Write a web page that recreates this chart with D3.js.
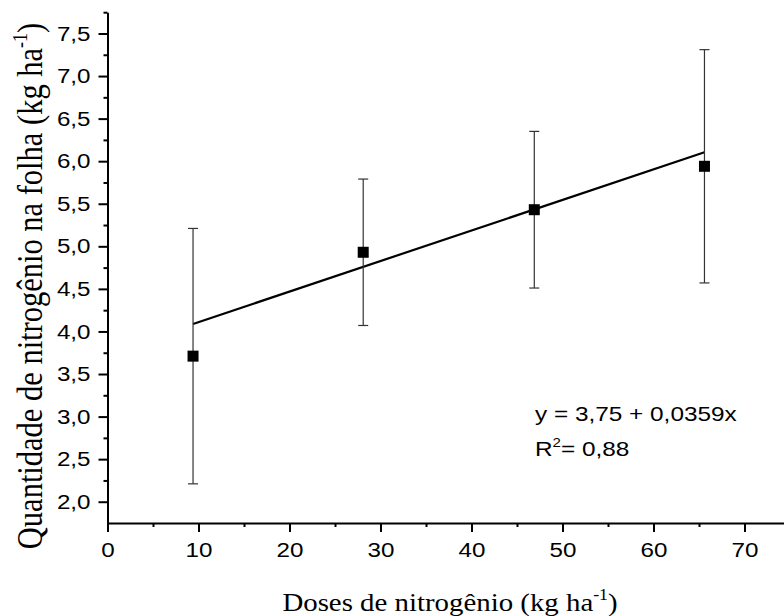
<!DOCTYPE html>
<html>
<head>
<meta charset="utf-8">
<script src="https://cdn.jsdelivr.net/npm/d3@7"></script>
<style>
  html, body { margin: 0; padding: 0; background: #fff; }
  svg { display: block; }
</style>
</head>
<body>
<svg id="chart" width="784" height="616"></svg>
<script>
// ---- data ----
const doses = [9.4, 28.1, 46.9, 65.6];
const means = [3.71, 4.93, 5.43, 5.94];
const errors = [1.50, 0.86, 0.92, 1.37];
const intercept = 3.75;
const slope = 0.0359;
const r2Label = "0,88";
const eqLabel = "y = 3,75 + 0,0359x";
const xTicks = [0, 10, 20, 30, 40, 50, 60, 70];
const xMinorTicks = [5, 15, 25, 35, 45, 55, 65, 75];
const yTicks = [2.0, 2.5, 3.0, 3.5, 4.0, 4.5, 5.0, 5.5, 6.0, 6.5, 7.0, 7.5];
const yMinorTicks = [2.25, 2.75, 3.25, 3.75, 4.25, 4.75, 5.25, 5.75, 6.25, 6.75, 7.25, 7.75];

const svg = d3.select("#chart");
const SX = 1.18; // horizontal stretch of text seen in reference

const x = d3.scaleLinear().domain([0, 75]).range([107.5, 790]);
const y = d3.scaleLinear().domain([1.75, 7.75]).range([523, 12.2]);

const fmt = v => d3.format(".1f")(v).replace(".", ",");

// x axis
const gx = svg.append("g").attr("transform", `translate(0,${y(1.75)})`);
gx.call(d3.axisBottom(x).tickValues(xMinorTicks).tickSize(4).tickFormat(""));
gx.call(g => g.selectAll(".domain").remove());
const gxMaj = svg.append("g").attr("transform", `translate(0,${y(1.75)})`)
  .call(d3.axisBottom(x).tickValues(xTicks).tickSize(9).tickSizeOuter(0).tickPadding(8).tickFormat(d3.format("d")));
[gx, gxMaj].forEach(g => {
  g.selectAll("line").attr("stroke", "#000").attr("stroke-width", 2);
  g.selectAll("path").attr("stroke", "#000").attr("stroke-width", 2);
});
gxMaj.selectAll("text")
  .attr("font-family", "Liberation Sans, Arial, sans-serif")
  .attr("font-size", 20.5).attr("fill", "#000")
  .attr("dy", null).attr("y", 34)
  .attr("transform", `scale(${SX},1)`);

// y axis
const gy = svg.append("g").attr("transform", `translate(${x(0)},0)`);
gy.call(d3.axisLeft(y).tickValues(yMinorTicks).tickSize(4).tickFormat(""));
gy.call(g => g.selectAll(".domain").remove());
const gyMaj = svg.append("g").attr("transform", `translate(${x(0)},0)`)
  .call(d3.axisLeft(y).tickValues(yTicks).tickSize(9).tickSizeOuter(0).tickPadding(5).tickFormat(fmt));
[gy, gyMaj].forEach(g => {
  g.selectAll("line").attr("stroke", "#000").attr("stroke-width", 2);
  g.selectAll("path").attr("stroke", "#000").attr("stroke-width", 2);
});
gyMaj.selectAll("text")
  .attr("font-family", "Liberation Sans, Arial, sans-serif")
  .attr("font-size", 20.5).attr("fill", "#000")
  .attr("x", -17 / SX)
  .attr("transform", `scale(${SX},1)`);

// regression line
const x0 = doses[0], x1 = doses[doses.length - 1];
svg.append("line")
  .attr("x1", x(x0)).attr("y1", y(intercept + slope * x0))
  .attr("x2", x(x1)).attr("y2", y(intercept + slope * x1))
  .attr("stroke", "#000").attr("stroke-width", 2.2);

// error bars
const pts = doses.map((d, i) => ({ d, m: means[i], e: errors[i] }));
const eb = svg.append("g").attr("stroke", "#333").attr("stroke-width", 1.2);
pts.forEach(p => {
  eb.append("line").attr("x1", x(p.d)).attr("x2", x(p.d)).attr("y1", y(p.m - p.e)).attr("y2", y(p.m + p.e));
  eb.append("line").attr("x1", x(p.d) - 5).attr("x2", x(p.d) + 5).attr("y1", y(p.m + p.e)).attr("y2", y(p.m + p.e));
  eb.append("line").attr("x1", x(p.d) - 5).attr("x2", x(p.d) + 5).attr("y1", y(p.m - p.e)).attr("y2", y(p.m - p.e));
});

// markers
svg.append("g").selectAll("rect").data(pts).join("rect")
  .attr("x", p => x(p.d) - 5.5).attr("y", p => y(p.m) - 5.5)
  .attr("width", 11).attr("height", 11).attr("fill", "#000");

// equation
const eq = svg.append("g").attr("transform", `translate(535,0) scale(1.16,1)`)
  .attr("font-family", "Liberation Sans, Arial, sans-serif").attr("font-size", 21).attr("fill", "#000");
eq.append("text").attr("x", 0).attr("y", 421).text(eqLabel);
const r2 = eq.append("text").attr("x", 0).attr("y", 456);
r2.append("tspan").text("R");
r2.append("tspan").attr("font-size", 13).attr("dy", -9).text("2");
r2.append("tspan").attr("dy", 9).text("= " + r2Label);

// x title
const xt = svg.append("text")
  .attr("transform", "translate(450,611) scale(1.11,1)").attr("text-anchor", "middle")
  .attr("font-family", "Liberation Serif, Times New Roman, serif").attr("font-size", 26).attr("fill", "#000");
xt.append("tspan").text("Doses de nitrogênio (kg ha");
xt.append("tspan").attr("font-size", 16).attr("dy", -11).text("-1");
xt.append("tspan").attr("dy", 11).text(")");

// y title
const yt = svg.append("text")
  .attr("transform", `translate(42,286) scale(${SX},1) rotate(-90)`).attr("text-anchor", "middle")
  .attr("font-family", "Liberation Serif, Times New Roman, serif").attr("font-size", 30.5).attr("fill", "#000");
yt.append("tspan").text("Quantidade de nitrogênio na folha (kg ha");
yt.append("tspan").attr("font-size", 18).attr("dy", -13).text("-1");
yt.append("tspan").attr("dy", 13).text(")");
</script>
</body>
</html>
